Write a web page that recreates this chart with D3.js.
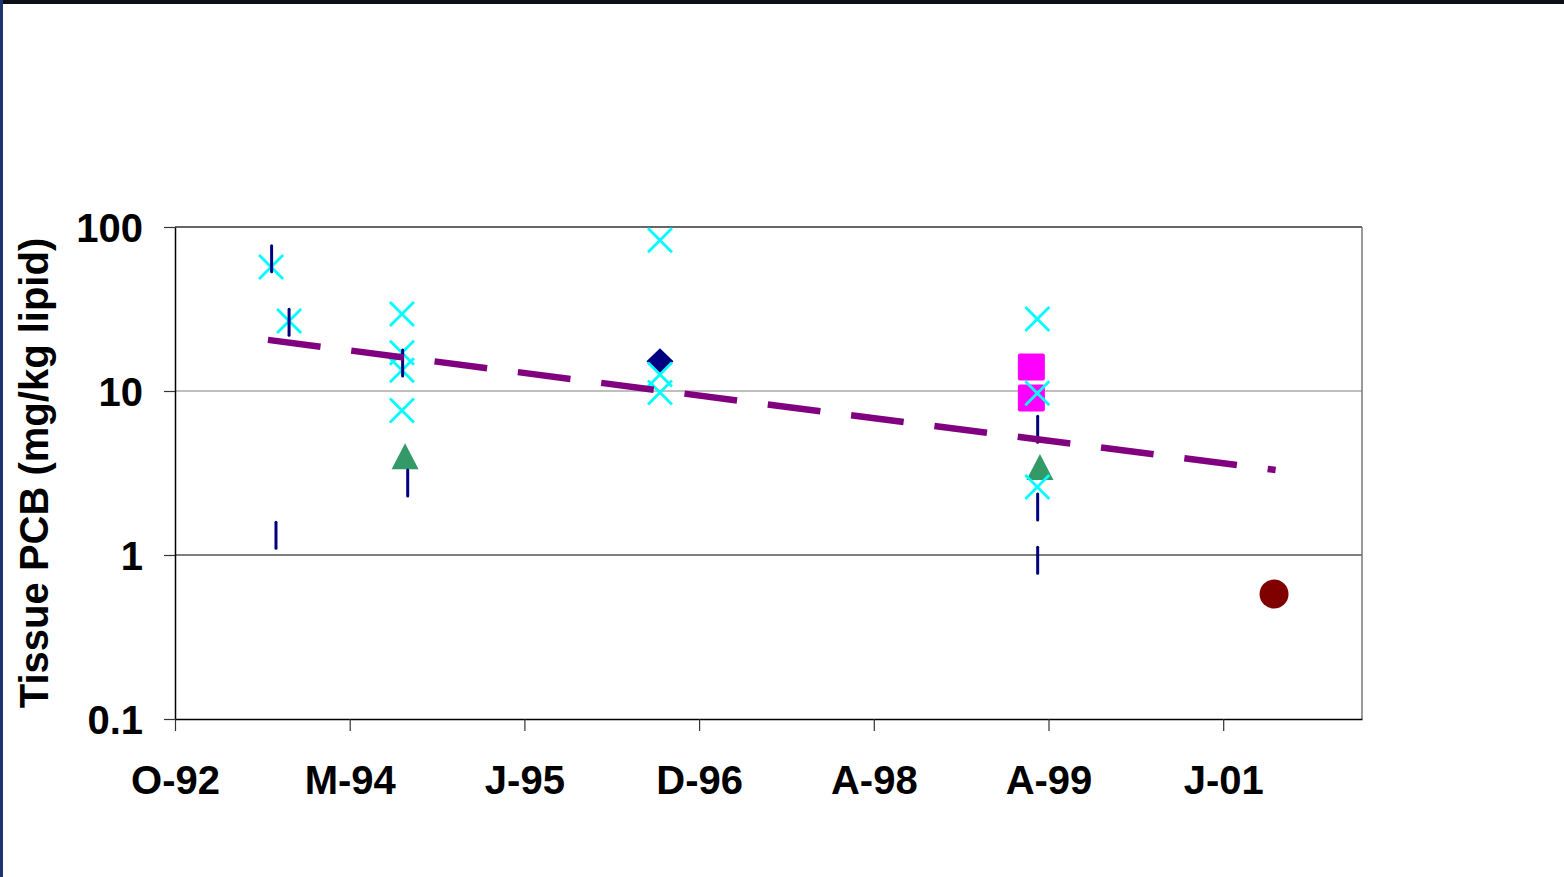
<!DOCTYPE html>
<html><head><meta charset="utf-8">
<script src="https://cdn.jsdelivr.net/npm/d3@7"></script>
<style>html,body{margin:0;padding:0;background:#fff;}svg{display:block;}</style>
</head><body>
<svg id="c" width="1564" height="877"></svg>
<script>
// x values are in axis units: each labelled tick is one unit (O-92 = 0)
const xTickLabels = ["O-92","M-94","J-95","D-96","A-98","A-99","J-01"];
const yTickValues = [0.1, 1, 10, 100];
const yTitle = "Tissue PCB (mg/kg lipid)";

const cyanX   = [[0.550,57],[0.653,26.7],[1.299,29.5],[1.299,17.1],[1.299,13.4],[1.299,7.6],
                 [2.776,83],[2.776,12.6],[2.776,9.8],[4.936,27.5],[4.936,9.7],[4.936,2.6]];
const navyBar = [[0.553,64],[0.653,26.3],[0.578,1.32],[1.303,14.8],[1.332,2.75],
                 [4.938,5.85],[4.938,1.96],[4.938,0.93]];
const diamond = [[2.776,15.2]];
const squares = [[4.902,14.0],[4.902,9.06]];
const triangles = [[1.317,4.0],[4.951,3.44]];
const circles = [[6.291,0.578]];
const trend = [[0.532,20.5],[6.30,3.3]];

const svg = d3.select("#c");
const L=175,R=1362,T=227,B=719;
const x = d3.scaleLinear().domain([0, (R-L)/174.7]).range([L,R]);
const y = d3.scaleLog().domain([0.1,100]).range([B,T]);

// frame edges
svg.append("rect").attr("x",0).attr("y",0).attr("width",1564).attr("height",4).attr("fill","#0d0f14");
svg.append("rect").attr("x",0).attr("y",0).attr("width",3).attr("height",877).attr("fill","#1f3270");

// gridlines
svg.append("g").selectAll("line").data([1,10]).join("line")
  .attr("x1",L).attr("x2",R).attr("y1",d=>y(d)).attr("y2",d=>y(d))
  .attr("stroke",d=>d===10?"#808080":"#000").attr("stroke-width",1.2);
// plot border top/right
svg.append("line").attr("x1",L).attr("x2",R).attr("y1",T).attr("y2",T).attr("stroke","#333").attr("stroke-width",1.5);
svg.append("line").attr("x1",R).attr("x2",R).attr("y1",T).attr("y2",B).attr("stroke","#777").attr("stroke-width",1.5);

const font = "'Liberation Sans', Arial, sans-serif";
// y axis
const ya = svg.append("g").attr("transform",`translate(${L},0)`)
  .call(d3.axisLeft(y).tickValues(yTickValues).tickFormat(d=>String(d)).tickSize(11).tickSizeOuter(0).tickPadding(21));
ya.select(".domain").attr("stroke","#000").attr("stroke-width",1.5);
ya.selectAll(".tick line").attr("stroke","#333").attr("stroke-width",1.2);
ya.selectAll("text").attr("font-family",font).attr("font-weight","bold").attr("font-size",40).attr("fill","#000").attr("dy","0.36em");

// x axis
const xa = svg.append("g").attr("transform",`translate(0,${B})`)
  .call(d3.axisBottom(x).tickValues(d3.range(xTickLabels.length)).tickFormat(i=>xTickLabels[i]).tickSize(12).tickSizeOuter(0).tickPadding(35));
xa.select(".domain").attr("stroke","#000").attr("stroke-width",1.5);
xa.selectAll(".tick line").attr("stroke","#333").attr("stroke-width",1.2);
xa.selectAll("text").attr("font-family",font).attr("font-weight","bold").attr("font-size",40).attr("fill","#000");

// y title
svg.append("text").attr("transform",`translate(48,${473}) rotate(-90)`)
  .attr("text-anchor","middle").attr("font-family",font).attr("font-weight","bold").attr("font-size",40).text(yTitle);

const g = svg.append("g");
// squares
g.selectAll(".sq").data(squares).join("rect").attr("class","sq")
  .attr("x",d=>x(d[0])-13.5).attr("y",d=>y(d[1])-13.5).attr("width",27).attr("height",27).attr("rx",2)
  .attr("fill","#ff00ff");
// triangles
g.selectAll(".tri").data(triangles).join("path").attr("class","tri")
  .attr("transform",d=>`translate(${x(d[0])},${y(d[1])})`)
  .attr("d","M0,-13 L13.5,13 L-13.5,13 Z").attr("fill","#339966");
// circle
g.selectAll(".ci").data(circles).join("circle").attr("class","ci")
  .attr("cx",d=>x(d[0])).attr("cy",d=>y(d[1])).attr("r",14.5).attr("fill","#800000");
// diamond
g.selectAll(".di").data(diamond).join("path").attr("class","di")
  .attr("transform",d=>`translate(${x(d[0])},${y(d[1])})`)
  .attr("d","M0,-13 L13.5,0 L0,13 L-13.5,0 Z").attr("fill","#000080");
// cyan X
g.selectAll(".cx").data(cyanX).join("path").attr("class","cx")
  .attr("transform",d=>`translate(${x(d[0])},${y(d[1])})`)
  .attr("d","M-12,-12 L12,12 M-12,12 L12,-12").attr("stroke","#00ffff").attr("stroke-width",2.8).attr("fill","none");
// navy bars
g.selectAll(".nb").data(navyBar).join("line").attr("class","nb")
  .attr("x1",d=>x(d[0])).attr("x2",d=>x(d[0])).attr("y1",d=>y(d[1])-13).attr("y2",d=>y(d[1])+13)
  .attr("stroke","#000080").attr("stroke-width",3).attr("stroke-linecap","round");
// trend line
g.append("path").datum(trend)
  .attr("d",d3.line().x(d=>x(d[0])).y(d=>y(d[1])))
  .attr("stroke","#800080").attr("stroke-width",6.5).attr("fill","none").attr("stroke-dasharray","53,31");
</script>
</body></html>
